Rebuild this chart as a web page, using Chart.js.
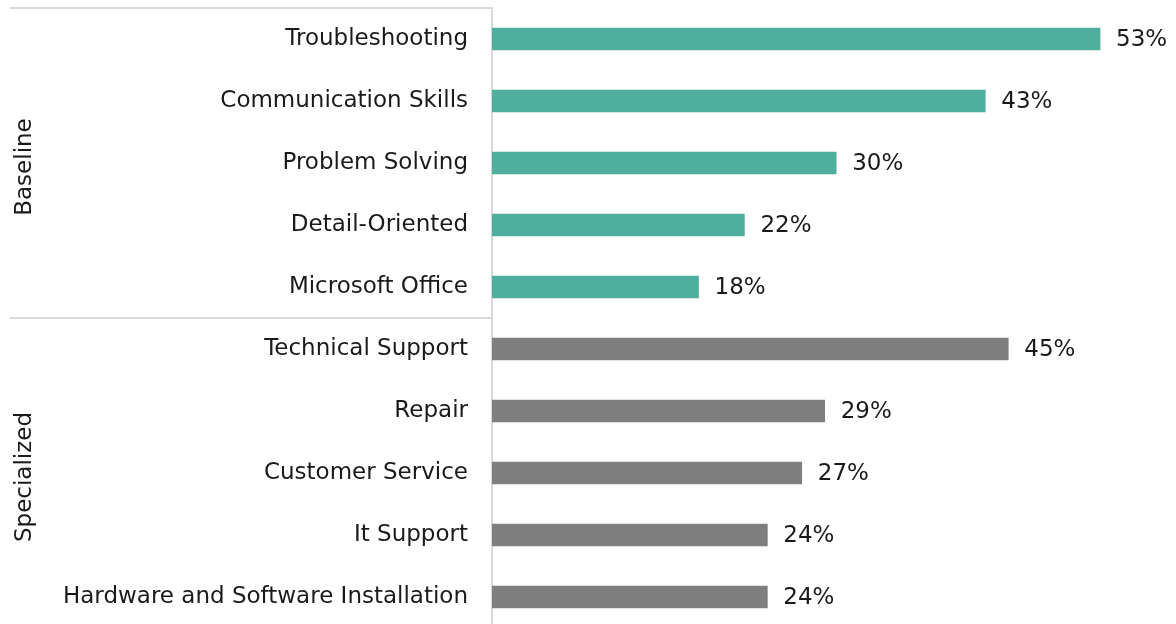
<!DOCTYPE html>
<html>
<head>
<meta charset="utf-8">
<script src="https://cdn.jsdelivr.net/npm/chart.js@4/dist/chart.umd.min.js"></script>
<style>
html,body{margin:0;padding:0;background:#fff;overflow:hidden;}
canvas{display:block;}
</style>
</head>
<body>
<canvas id="c" width="1176" height="628"></canvas>
<script>
const categories = ["Troubleshooting","Communication Skills","Problem Solving","Detail-Oriented","Microsoft Office","Technical Support","Repair","Customer Service","It Support","Hardware and Software Installation"];
const values = [53,43,30,22,18,45,29,27,24,24];
const groupNames = ["Baseline","Specialized"];
const groupSizes = [5,5];
const groupColors = ["#4FAF9C","#7F7F7F"];

const barColors = [];
groupSizes.forEach((n,g)=>{for(let i=0;i<n;i++)barColors.push(groupColors[g]);});

const FONT = "'DejaVu Sans', sans-serif";
const FS = 23;
const LINE = "#D9D9D9";

const extras = {
  id:'extras',
  afterDatasetsDraw(chart){
    const ctx = chart.ctx;
    const y = chart.scales.y;
    const meta = chart.getDatasetMeta(0);
    ctx.save();
    ctx.font = FS + "px " + FONT;
    ctx.fillStyle = "#1a1a1a";
    ctx.textBaseline = "middle";
    ctx.textAlign = "left";
    meta.data.forEach((bar,i)=>{
      ctx.fillText(values[i] + "%", bar.x + 16, bar.y + 1);
    });
    const step = y.getPixelForValue(1) - y.getPixelForValue(0);
    ctx.strokeStyle = LINE;
    ctx.lineWidth = 2;
    let start = 0;
    const axisX = chart.chartArea.left - 1;
    groupSizes.forEach((n,g)=>{
      const top = y.getPixelForValue(start) - step/2;
      const bot = y.getPixelForValue(start+n-1) + step/2;
      ctx.beginPath();
      ctx.moveTo(10, top);
      ctx.lineTo(axisX, top);
      ctx.stroke();
      ctx.save();
      ctx.translate(25, (top+bot)/2 + 4);
      ctx.rotate(-Math.PI/2);
      ctx.textAlign = "center";
      ctx.textBaseline = "middle";
      ctx.font = FS + "px " + FONT;
      ctx.fillStyle = "#1a1a1a";
      ctx.fillText(groupNames[g], 0, 0);
      ctx.restore();
      start += n;
    });
    ctx.restore();
  }
};

new Chart(document.getElementById('c'), {
  type:'bar',
  data:{
    labels:categories,
    datasets:[{data:values, backgroundColor:barColors, barThickness:22, borderWidth:0}]
  },
  options:{
    indexAxis:'y',
    responsive:false,
    animation:false,
    layout:{autoPadding:false,padding:{top:8,right:18.6,bottom:0,left:0}},
    plugins:{legend:{display:false},tooltip:{enabled:false}},
    scales:{
      x:{display:false,min:0,max:58},
      y:{
        grid:{display:false},
        border:{display:true,color:LINE,width:2},
        ticks:{color:"#1a1a1a",font:{family:FONT,size:FS},padding:16},
        afterFit(s){s.width = 492; s.paddingTop = 0; s.paddingBottom = 0;}
      }
    }
  },
  plugins:[extras]
});
</script>
</body>
</html>
